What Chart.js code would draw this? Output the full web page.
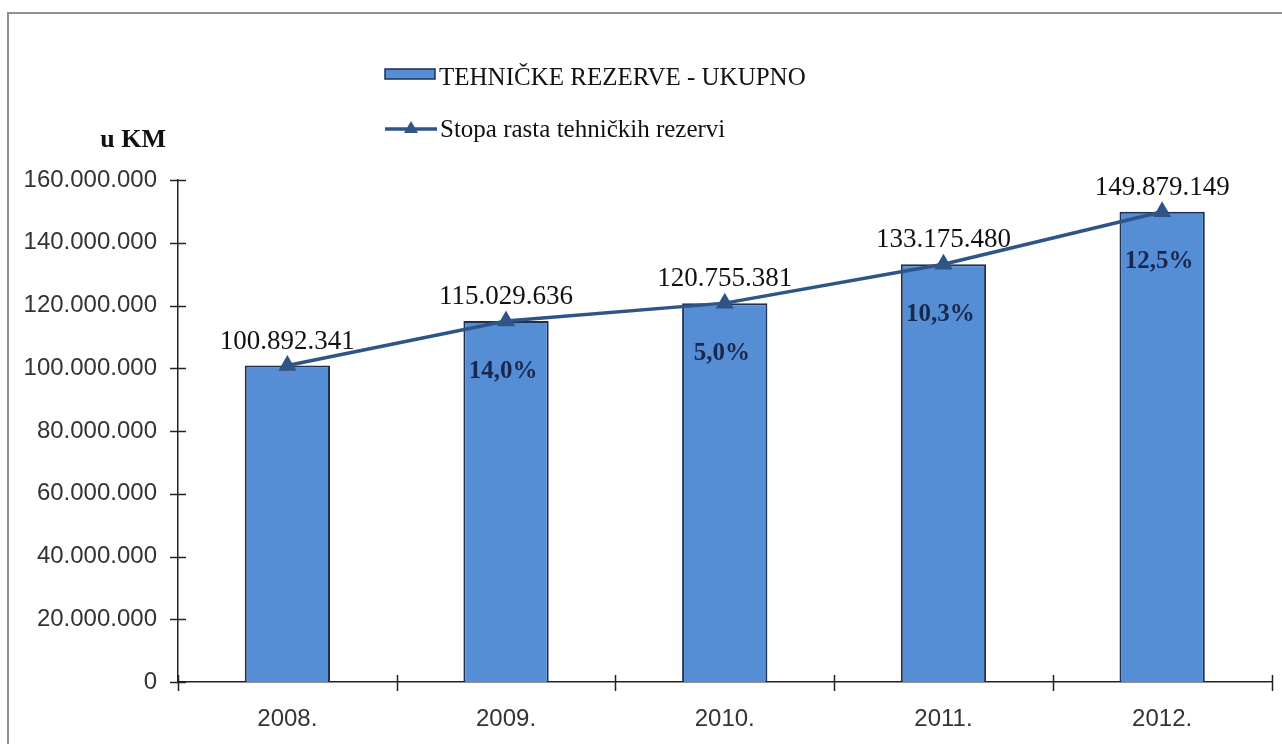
<!DOCTYPE html>
<html>
<head>
<meta charset="utf-8">
<script src="https://cdn.jsdelivr.net/npm/chart.js@4.4.1/dist/chart.umd.min.js"></script>
<style>
  html, body { margin: 0; padding: 0; background: #fff; overflow: hidden; }
  #okvir { position: absolute; left: 7px; top: 12px; width: 1300px; height: 800px;
           border-left: 2px solid #8f8f8f; border-top: 2px solid #8f8f8f; }
  #wrap { position: absolute; left: 0; top: 0; width: 1282px; height: 744px; }
</style>
</head>
<body>
<div id="okvir"></div>
<div id="wrap"><canvas id="grafik" width="1282" height="744"></canvas></div>
<script>
///// podaci
const godine = ["2008.", "2009.", "2010.", "2011.", "2012."];
const rezerve = [100892341, 115029636, 120755381, 133175480, 149879149];
const stopaRasta = [null, "14,0%", "5,0%", "10,3%", "12,5%"];
const yTicks = [0, 20000000, 40000000, 60000000, 80000000, 100000000, 120000000, 140000000, 160000000];

const plava = "#558ed5";
const tamnoPlava = "#2e5586";
const serif = "'Liberation Serif', 'Times New Roman', serif";
const sans = "'Liberation Sans', Arial, sans-serif";

///// broj sa tačkama (100.892.341)
function formatBroj(v) {
    return String(Math.round(v)).replace(/\B(?=(\d{3})+(?!\d))/g, ".");
}

///// crtice, oznake vrijednosti i legenda
const oznake = {
    id: "oznake",
    afterDatasetsDraw(chart) {
        const ctx = chart.ctx;
        const x = chart.scales.x;
        const y = chart.scales.y;
        ctx.save();

        // crtice na osama (preko ose)
        ctx.strokeStyle = "#222";
        ctx.lineWidth = 1.5;
        yTicks.forEach(t => {
            const py = Math.round(y.getPixelForValue(t)) + 0.5;
            ctx.beginPath();
            ctx.moveTo(x.left - 8, py);
            ctx.lineTo(x.left + 8, py);
            ctx.stroke();
        });
        const granice = [x.left];
        for (let i = 0; i < godine.length - 1; i++) {
            granice.push((x.getPixelForValue(i) + x.getPixelForValue(i + 1)) / 2);
        }
        granice.push(x.right);
        granice.forEach(px => {
            ctx.beginPath();
            ctx.moveTo(Math.round(px) + 0.5, y.bottom - 7);
            ctx.lineTo(Math.round(px) + 0.5, y.bottom + 9);
            ctx.stroke();
        });

        // vrijednosti iznad stubova
        ctx.textAlign = "center";
        ctx.textBaseline = "middle";
        ctx.font = "27px " + serif;
        ctx.fillStyle = "#111";
        rezerve.forEach((v, i) => {
            ctx.fillText(formatBroj(v), x.getPixelForValue(i), y.getPixelForValue(v) - 24);
        });

        // stopa rasta u stubovima
        ctx.font = "bold 25px " + serif;
        ctx.fillStyle = "#1a2850";
        stopaRasta.forEach((s, i) => {
            if (!s) return;
            ctx.fillText(s, x.getPixelForValue(i) - 3, y.getPixelForValue(rezerve[i]) + 50);
        });

        // legenda
        const ds = chart.data.datasets;
        const stub = ds.find(d => d.type === "bar");
        const linija = ds.find(d => d.type === "line");
        ctx.textAlign = "left";
        ctx.font = "25px " + serif;
        ctx.fillStyle = plava;
        ctx.fillRect(385, 69, 50, 10);
        ctx.strokeStyle = stub.borderColor;
        ctx.lineWidth = 1.5;
        ctx.strokeRect(385, 69, 50, 10);
        ctx.fillStyle = "#111";
        ctx.fillText(stub.label, 439, 78);

        ctx.strokeStyle = linija.borderColor;
        ctx.lineWidth = 3.5;
        ctx.beginPath();
        ctx.moveTo(385, 129);
        ctx.lineTo(437, 129);
        ctx.stroke();
        ctx.fillStyle = linija.borderColor;
        ctx.beginPath();
        ctx.moveTo(411, 121);
        ctx.lineTo(418, 133);
        ctx.lineTo(404, 133);
        ctx.closePath();
        ctx.fill();
        ctx.fillStyle = "#111";
        ctx.fillText(linija.label, 440, 130);

        // jedinica mjere
        ctx.textAlign = "right";
        ctx.font = "bold 26px " + serif;
        ctx.fillText("u KM", 166, 140);

        ctx.restore();
    }
};

///// graf
new Chart(document.getElementById("grafik"), {
    type: "bar",
    data: {
        labels: godine,
        datasets: [{
            type: "bar",
            label: "TEHNIČKE REZERVE - UKUPNO",
            data: rezerve,
            backgroundColor: plava,
            borderColor: "#1f2f50",
            borderWidth: 2,
            barPercentage: 0.39,
            categoryPercentage: 1,
            order: 2
        }, {
            type: "line",
            label: "Stopa rasta tehničkih rezervi",
            data: rezerve,
            borderColor: tamnoPlava,
            backgroundColor: tamnoPlava,
            borderWidth: 3.5,
            tension: 0,
            pointStyle: "triangle",
            pointRadius: 7,
            pointBackgroundColor: tamnoPlava,
            pointBorderColor: tamnoPlava,
            order: 1
        }]
    },
    options: {
        responsive: false,
        animation: false,
        layout: { padding: { left: 0, right: 9, top: 180, bottom: 0 } },
        plugins: {
            legend: { display: false },
            tooltip: { enabled: false }
        },
        scales: {
            x: {
                grid: { display: false, drawTicks: false },
                border: { color: "#222", width: 1.5 },
                ticks: { font: { family: sans, size: 24 }, color: "#333", padding: 23 },
                afterFit(s) { s.height = 62; }
            },
            y: {
                min: 0,
                max: 160000000,
                afterBuildTicks(s) { s.ticks = yTicks.map(v => ({ value: v })); },
                grid: { display: false, drawTicks: false },
                border: { color: "#222", width: 1.5 },
                ticks: {
                    font: { family: sans, size: 24 },
                    color: "#333",
                    padding: 21,
                    callback: v => formatBroj(v)
                },
                afterFit(s) { s.width = 178; }
            }
        }
    },
    plugins: [oznake]
});
</script>
</body>
</html>
